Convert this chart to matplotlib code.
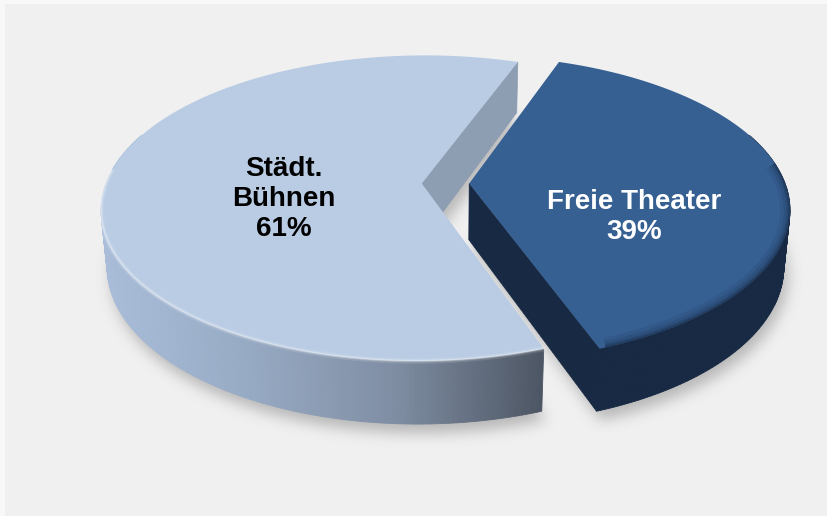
import numpy as np
import matplotlib
matplotlib.use("Agg")
import matplotlib.pyplot as plt
from matplotlib.path import Path
from matplotlib.patches import Polygon, Rectangle
from matplotlib.colors import LinearSegmentedColormap

plt.rcParams['font.family'] = ['Liberation Sans', 'DejaVu Sans']

# data
labels = ["Freie Theater", "Städt.\nBühnen"]
shares = [39, 61]
top_colors = ["#365f92", "#b9cce4"]
text_colors = ["white", "black"]

W, H = 828, 516

# camera / pie geometry (world units, pie radius = 1)
F = 1725.0
D = 5.46
ELEV = np.radians(28.1)
OX, OY = 445.5, 183.5
THICK = 0.205
EXPLODE = 0.075


def project(X, Y, Z):
    X, Y, Z = np.asarray(X, float), np.asarray(Y, float), np.asarray(Z, float)
    depth = D + Y * np.cos(ELEV) - Z * np.sin(ELEV)
    up = Y * np.sin(ELEV) + Z * np.cos(ELEV)
    return OX + F * X / depth, OY - F * up / depth


def rim(cx, cy, a0, a1, z, n=200):
    t = np.radians(np.linspace(a0, a1, n))
    sx, sy = project(cx + np.cos(t), cy + np.sin(t), np.full_like(t, z))
    return np.column_stack([sx, sy])


def face(cx, cy, a0, a1, z):
    c = np.array(project(cx, cy, z)).reshape(1, 2)
    return np.vstack([c, rim(cx, cy, a0, a1, z), c])


def radial_wall(cx, cy, ang):
    t = np.radians(ang)
    px, py = cx + np.cos(t), cy + np.sin(t)
    pts = [project(cx, cy, 0), project(px, py, 0),
           project(px, py, -THICK), project(cx, cy, -THICK)]
    return np.array(pts)


# slice angles: first slice centred on the right
span = np.array(shares) / sum(shares) * 360.0
starts = [-span[0] / 2, span[0] / 2]
ends = [span[0] / 2, span[0] / 2 + span[1]]
mids = [(s + e) / 2 for s, e in zip(starts, ends)]
centers = [(EXPLODE * np.cos(np.radians(m)), EXPLODE * np.sin(np.radians(m)))
           for m in mids]

fig = plt.figure(figsize=(W / 100, H / 100), dpi=100, facecolor="#f8f8f8")
ax = fig.add_axes([0, 0, 1, 1])
ax.set_xlim(0, W)
ax.set_ylim(H, 0)
ax.axis("off")
ax.add_patch(Rectangle((5, 4), W, H, facecolor="#f0f0f0", edgecolor="none", zorder=0))

# soft drop shadow from the bottom faces
yy, xx = np.mgrid[0:H, 0:W]
grid = np.column_stack([xx.ravel() + 0.5 - 4, yy.ravel() + 0.5 - 9])
mask = np.zeros(H * W)
for (cx, cy), s, e in zip(centers, starts, ends):
    mask = np.maximum(mask, Path(face(cx, cy, s, e, -THICK)).contains_points(grid))
mask = mask.reshape(H, W)
sig = 7.0
k = np.exp(-0.5 * (np.arange(-21, 22) / sig) ** 2)
k /= k.sum()
blur = np.apply_along_axis(lambda r: np.convolve(r, k, mode="same"), 1, mask)
blur = np.apply_along_axis(lambda r: np.convolve(r, k, mode="same"), 0, blur)
shadow = np.zeros((H, W, 4))
shadow[..., :3] = 0.35
shadow[..., 3] = 0.38 * blur
ax.imshow(shadow, extent=[0, W, H, 0], zorder=1, interpolation="bilinear")

dark_c, light_c = centers

# cut wall at the back of the light slice
ax.add_patch(Polygon(radial_wall(*light_c, ends[0]), closed=True,
                     facecolor="#8d9db2", edgecolor="#8d9db2", lw=0.5, zorder=2))

# dark slice: outer wall, front cut wall, top
navy = "#172943"
t = np.linspace(starts[0], 20, 120)
for a0, a1 in zip(t[:-1], t[1:]):
    q = np.vstack([rim(*dark_c, a0, a1, 0, 2), rim(*dark_c, a1, a0, -THICK, 2)])
    ax.add_patch(Polygon(q, closed=True, facecolor=navy, edgecolor=navy, lw=0.6, zorder=3))
ax.add_patch(Polygon(radial_wall(*dark_c, starts[0]), closed=True,
                     facecolor=navy, edgecolor=navy, lw=0.5, zorder=3))
dark_top = Polygon(face(*dark_c, starts[0], ends[0], 0), closed=True,
                   facecolor=top_colors[0], edgecolor="none", zorder=4)
ax.add_patch(dark_top)
# rounded front rim of the dark top, kept inside the top face
front = rim(*dark_c, starts[0] + 1, 8, 0)
for lw, al in [(14, 0.10), (9, 0.14), (5, 0.22), (2.5, 0.35)]:
    ln, = ax.plot(front[:, 0], front[:, 1], color=navy, lw=lw, alpha=al,
                  solid_capstyle="butt", zorder=4.5)
    ln.set_clip_path(dark_top)

# light slice: outer wall with left-to-right shading, then top
wall_cmap = LinearSegmentedColormap.from_list(
    "wall", ["#aabedb", "#98abc5", "#7f8ea3", "#4c5563"])
t = np.linspace(160, ends[1], 200)
for a0, a1 in zip(t[:-1], t[1:]):
    q = np.vstack([rim(*light_c, a0, a1, 0, 2), rim(*light_c, a1, a0, -THICK, 2)])
    frac = np.clip((q[:, 0].mean() - 95) / (545 - 95), 0, 1)
    col = wall_cmap(frac)
    ax.add_patch(Polygon(q, closed=True, facecolor=col, edgecolor=col, lw=0.6, zorder=5))
ax.add_patch(Polygon(face(*light_c, starts[1], ends[1], 0), closed=True,
                     facecolor=top_colors[1], edgecolor="none", zorder=6))
lrim = rim(*light_c, 175, ends[1], 0)
for lw, al in [(4, 0.10), (2, 0.18), (1.0, 0.30)]:
    ax.plot(lrim[:, 0], lrim[:, 1], color="white", lw=lw, alpha=al, zorder=6.5)

# labels
label_r = [0.50, 0.43]
label_dy = [-0.22, -0.10]
for (cx, cy), m, r, dy, lab, sh, tc in zip(centers, mids, label_r, label_dy,
                                            labels, shares, text_colors):
    lx, ly = project(cx + r * np.cos(np.radians(m)), cy + r * np.sin(np.radians(m)) + dy, 0)
    ax.text(lx, ly, f"{lab}\n{sh}%", ha="center", va="center", fontsize=20,
            fontweight="bold", color=tc, linespacing=1.2, zorder=8)

fig.savefig("out.png", dpi=100, facecolor=fig.get_facecolor())
